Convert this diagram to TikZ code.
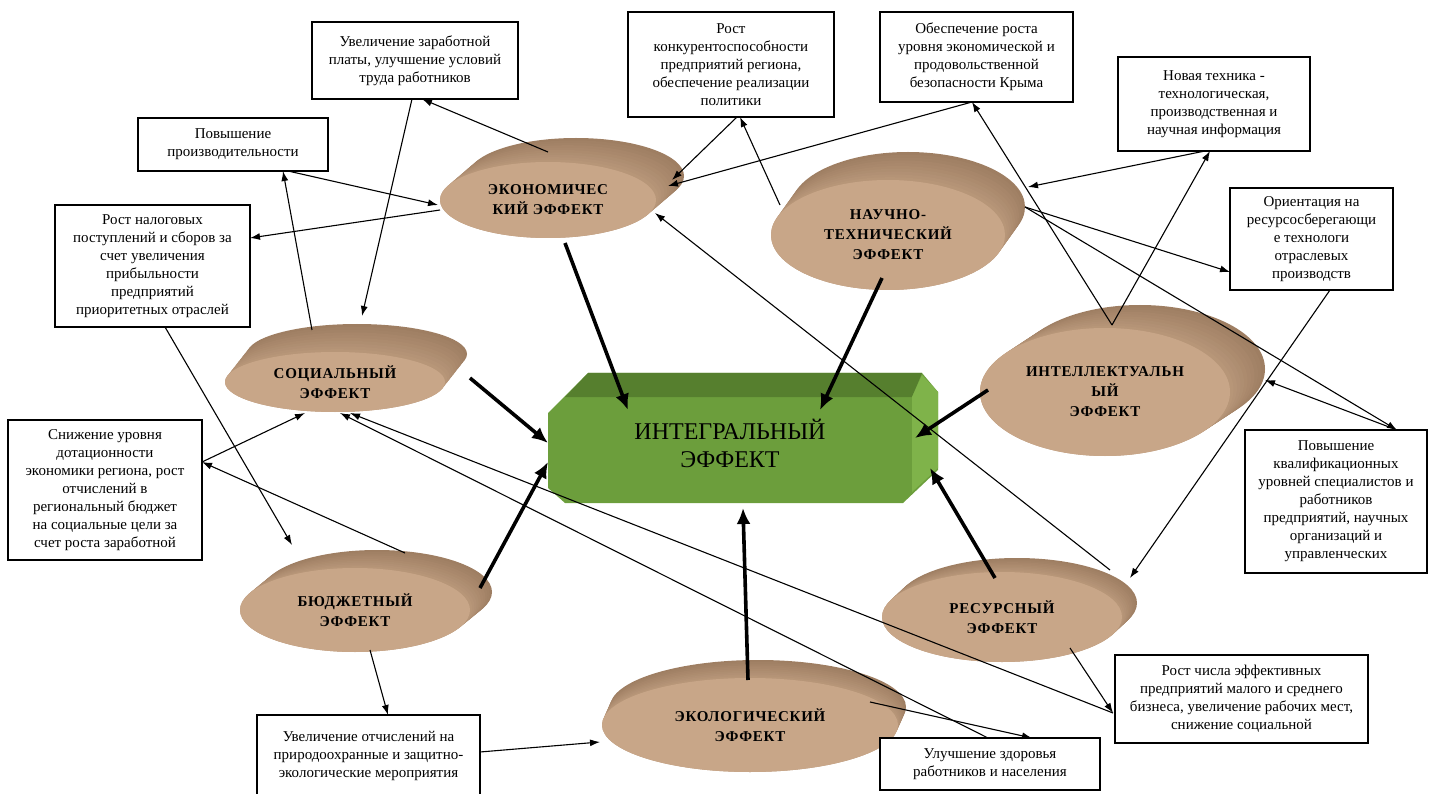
\documentclass[tikz,border=0pt]{standalone}
\usepackage{fontspec}
\setmainfont{Liberation Serif}
\newfontfamily\boxfont{Liberation Serif}
\newfontfamily\diskfont[LetterSpace=5]{Liberation Serif}
\usetikzlibrary{arrows.meta,shapes.geometric,calc}
\definecolor{tanface}{HTML}{C8A688}
\definecolor{tanrim}{HTML}{9E7E62}
\definecolor{gfront}{HTML}{6C9E3C}
\definecolor{gtop}{HTML}{567F2E}
\definecolor{gside}{HTML}{7FB34A}
\tikzset{
  bx/.style={draw, line width=2pt, fill=white, align=center,
    font=\boxfont\fontsize{15}{18}\selectfont, inner sep=2pt},
  dface/.style={ellipse, fill=tanface, inner sep=0pt, align=center,
    font=\diskfont\bfseries\fontsize{15}{20}\selectfont},
  thinarr/.style={line width=1.1pt, -{Latex[length=10pt,width=7pt]}},
  bigarr/.style={line width=3.6pt, -{Latex[length=16pt,width=14pt]}},
}
\newcommand\effdisk[8]{%
  \foreach \k [evaluate=\k as \c using int(35+6.5*\k)] in {10,9,...,0}{%
    \fill[tanrim!\c!tanface] ({#2+#6*\k/10},{#3+#7*\k/10}) ellipse [x radius=#4pt, y radius=#5pt];
  }%
  \node[dface, minimum width=2*#4pt, minimum height=2*#5pt] (#1) at (#2,#3) {#8};
}
\begin{document}
\begin{tikzpicture}[x=1pt,y=-1pt]
\useasboundingbox (0,0) rectangle (1433,794);

% ---- central 3D box
\node[minimum width=390pt, minimum height=130pt, inner sep=0pt] (integ) at (743,438) {};
\fill[gfront] (548,413) -- (588,373) -- (922,373) -- (938,392) -- (938,470) -- (903,503) -- (565,503) -- (548,488) -- cycle;
\fill[gtop] (588,373) -- (922,373) -- (912,397) -- (565,397) -- cycle;
\fill[gside] (912,397) -- (922,375) -- (938,392) -- (938,468) -- (912,492) -- cycle;
\node[align=center, font=\fontsize{24}{28}\selectfont] (integT) at (730,443) {ИНТЕГРАЛЬНЫЙ\\ЭФФЕКТ};

% ---- disks
\effdisk{econ}{548}{200}{108}{38}{28}{-24}{ЭКОНОМИЧЕС\\КИЙ ЭФФЕКТ}
\effdisk{nauch}{888}{235}{117}{55}{20}{-28}{НАУЧНО-\\ТЕХНИЧЕСКИЙ\\ЭФФЕКТ}
\effdisk{social}{335}{382}{110}{30}{22}{-28}{СОЦИАЛЬНЫЙ\\ЭФФЕКТ}
\effdisk{intell}{1105}{392}{125}{64}{35}{-23}{ИНТЕЛЛЕКТУАЛЬН\\ЫЙ\\ЭФФЕКТ}
\effdisk{budget}{355}{610}{115}{42}{22}{-18}{БЮДЖЕТНЫЙ\\ЭФФЕКТ}
\effdisk{resurs}{1002}{617}{120}{45}{15}{-14}{РЕСУРСНЫЙ\\ЭФФЕКТ}
\effdisk{ecol}{750}{725}{148}{47}{8}{-18}{ЭКОЛОГИЧЕСКИЙ\\ЭФФЕКТ}

% ---- boxes
\node[bx, minimum width=206pt, minimum height=77pt] (b1) at (415,60.5) {Увеличение заработной\\платы, улучшение условий\\труда работников};
\node[bx, minimum width=206pt, minimum height=105pt] (b2) at (731,64.5) {Рост\\конкурентоспособности\\предприятий региона,\\обеспечение реализации\\политики};
\node[bx, minimum width=193pt, minimum height=90pt] (b3) at (976.5,57) {Обеспечение роста\\уровня экономической и\\продовольственной\\безопасности Крыма};
\node[bx, minimum width=192pt, minimum height=94pt] (b4) at (1214,104) {Новая техника -\\технологическая,\\производственная и\\научная информация};
\node[bx, minimum width=190pt, minimum height=53pt] (b5) at (233,144.5) {Повышение\\производительности};
\node[bx, minimum width=195pt, minimum height=122pt] (b6) at (152.5,266) {Рост налоговых\\поступлений и сборов за\\счет увеличения\\прибыльности\\предприятий\\приоритетных отраслей};
\node[bx, minimum width=163pt, minimum height=102pt] (b7) at (1311.5,239) {Ориентация на\\ресурсосберегающи\\е технологи\\отраслевых\\производств};
\node[bx, minimum width=194pt, minimum height=140pt] (b8) at (105,490) {Снижение уровня\\дотационности\\экономики региона, рост\\отчислений в\\региональный бюджет\\на социальные цели за\\счет роста заработной};
\node[bx, minimum width=182pt, minimum height=143pt] (b9) at (1336,501.5) {Повышение\\квалификационных\\уровней специалистов и\\работников\\предприятий, научных\\организаций и\\управленческих};
\node[bx, minimum width=223pt, minimum height=81pt] (b10) at (368.5,755.5) {Увеличение отчислений на\\природоохранные и защитно-\\экологические мероприятия};
\node[bx, minimum width=220pt, minimum height=52pt] (b11) at (990,764) {Улучшение здоровья\\работников и населения};
\node[bx, minimum width=253pt, minimum height=88pt] (b12) at (1241.5,699) {Рост числа эффективных\\предприятий малого и среднего\\бизнеса, увеличение рабочих мест,\\снижение социальной};

% ---- thin connectors
\draw[thinarr] ($(econ)+(0,-48)$) -- ($(b1)+(7,38.5)$);
\draw[thinarr] ($(b1)+(-3,38.5)$) -- ($(social)+(27,-66)$);
\draw[thinarr] ($(social)+(-23,-52)$) -- ($(b5)+(50,26.5)$);
\draw[thinarr] ($(b5)+(55,26.5)$) -- ($(econ)+(-110,5)$);
\draw[thinarr] ($(econ)+(-108,10)$) -- ($(b6)+(97.5,-28)$);
\draw[thinarr] ($(b6)+(12.5,61)$) -- ($(budget)+(-63,-65)$);
\draw[thinarr] ($(budget)+(50,-57)$) -- ($(b8)+(97,-28)$);
\draw[thinarr] ($(b8)+(97,-28)$) -- ($(social)+(-30,31)$);
\draw[thinarr] ($(budget)+(15,40)$) -- ($(b10)+(19.5,-40.5)$);
\draw[thinarr] ($(b10)+(111.5,-3.5)$) -- ($(ecol)+(-150,17)$);
\draw[thinarr] ($(ecol)+(120,-23)$) -- ($(b11)+(42,-26)$);
\draw[thinarr] ($(b11)+(-2,-26)$) -- ($(social)+(5,31)$);
\draw[thinarr] ($(resurs)+(68,31)$) -- ($(b12)+(-128.5,14)$);
\draw[thinarr] ($(b12)+(-128.5,14)$) -- ($(social)+(15,31)$);
\draw[thinarr] ($(resurs)+(108,-47)$) -- ($(econ)+(107,13)$);
\draw[thinarr] ($(b3)+(-4.5,45)$) -- ($(econ)+(120,-14)$);
\draw[thinarr] ($(nauch)+(-108,-30)$) -- ($(b2)+(9,52.5)$);
\draw[thinarr] ($(b2)+(6,52.5)$) -- ($(econ)+(124,-20)$);
\draw[thinarr] ($(intell)+(7,-67)$) -- ($(b3)+(-4.5,45)$);
\draw[thinarr] ($(intell)+(7,-67)$) -- ($(b4)+(-4,47)$);
\draw[thinarr] ($(b4)+(-9,47)$) -- ($(nauch)+(140,-48)$);
\draw[thinarr] ($(nauch)+(137,-28)$) -- ($(b7)+(-81.5,33)$);
\draw[thinarr] ($(nauch)+(137,-28)$) -- ($(b9)+(61,-71.5)$);
\draw[thinarr] ($(b9)+(61,-71.5)$) -- ($(intell)+(160,-12)$);
\draw[thinarr] ($(b7)+(18.5,51)$) -- ($(resurs)+(128,-39)$);

% ---- thick arrows into the integral effect
\draw[bigarr] ($(econ)+(17,43)$) -- ($(integ)+(-115,-28)$);
\draw[bigarr] ($(nauch)+(-6,43)$) -- ($(integ)+(77,-28)$);
\draw[bigarr] ($(social)+(135,-4)$) -- ($(integ)+(-195,5)$);
\draw[bigarr] ($(budget)+(125,-22)$) -- ($(integ)+(-195,24)$);
\draw[bigarr] ($(intell)+(-117,-2)$) -- ($(integ)+(172,0)$);
\draw[bigarr] ($(resurs)+(-7,-39)$) -- ($(integ)+(187,30)$);
\draw[bigarr] ($(ecol)+(-2,-45)$) -- ($(integ)+(0,70)$);
\end{tikzpicture}
\end{document}
